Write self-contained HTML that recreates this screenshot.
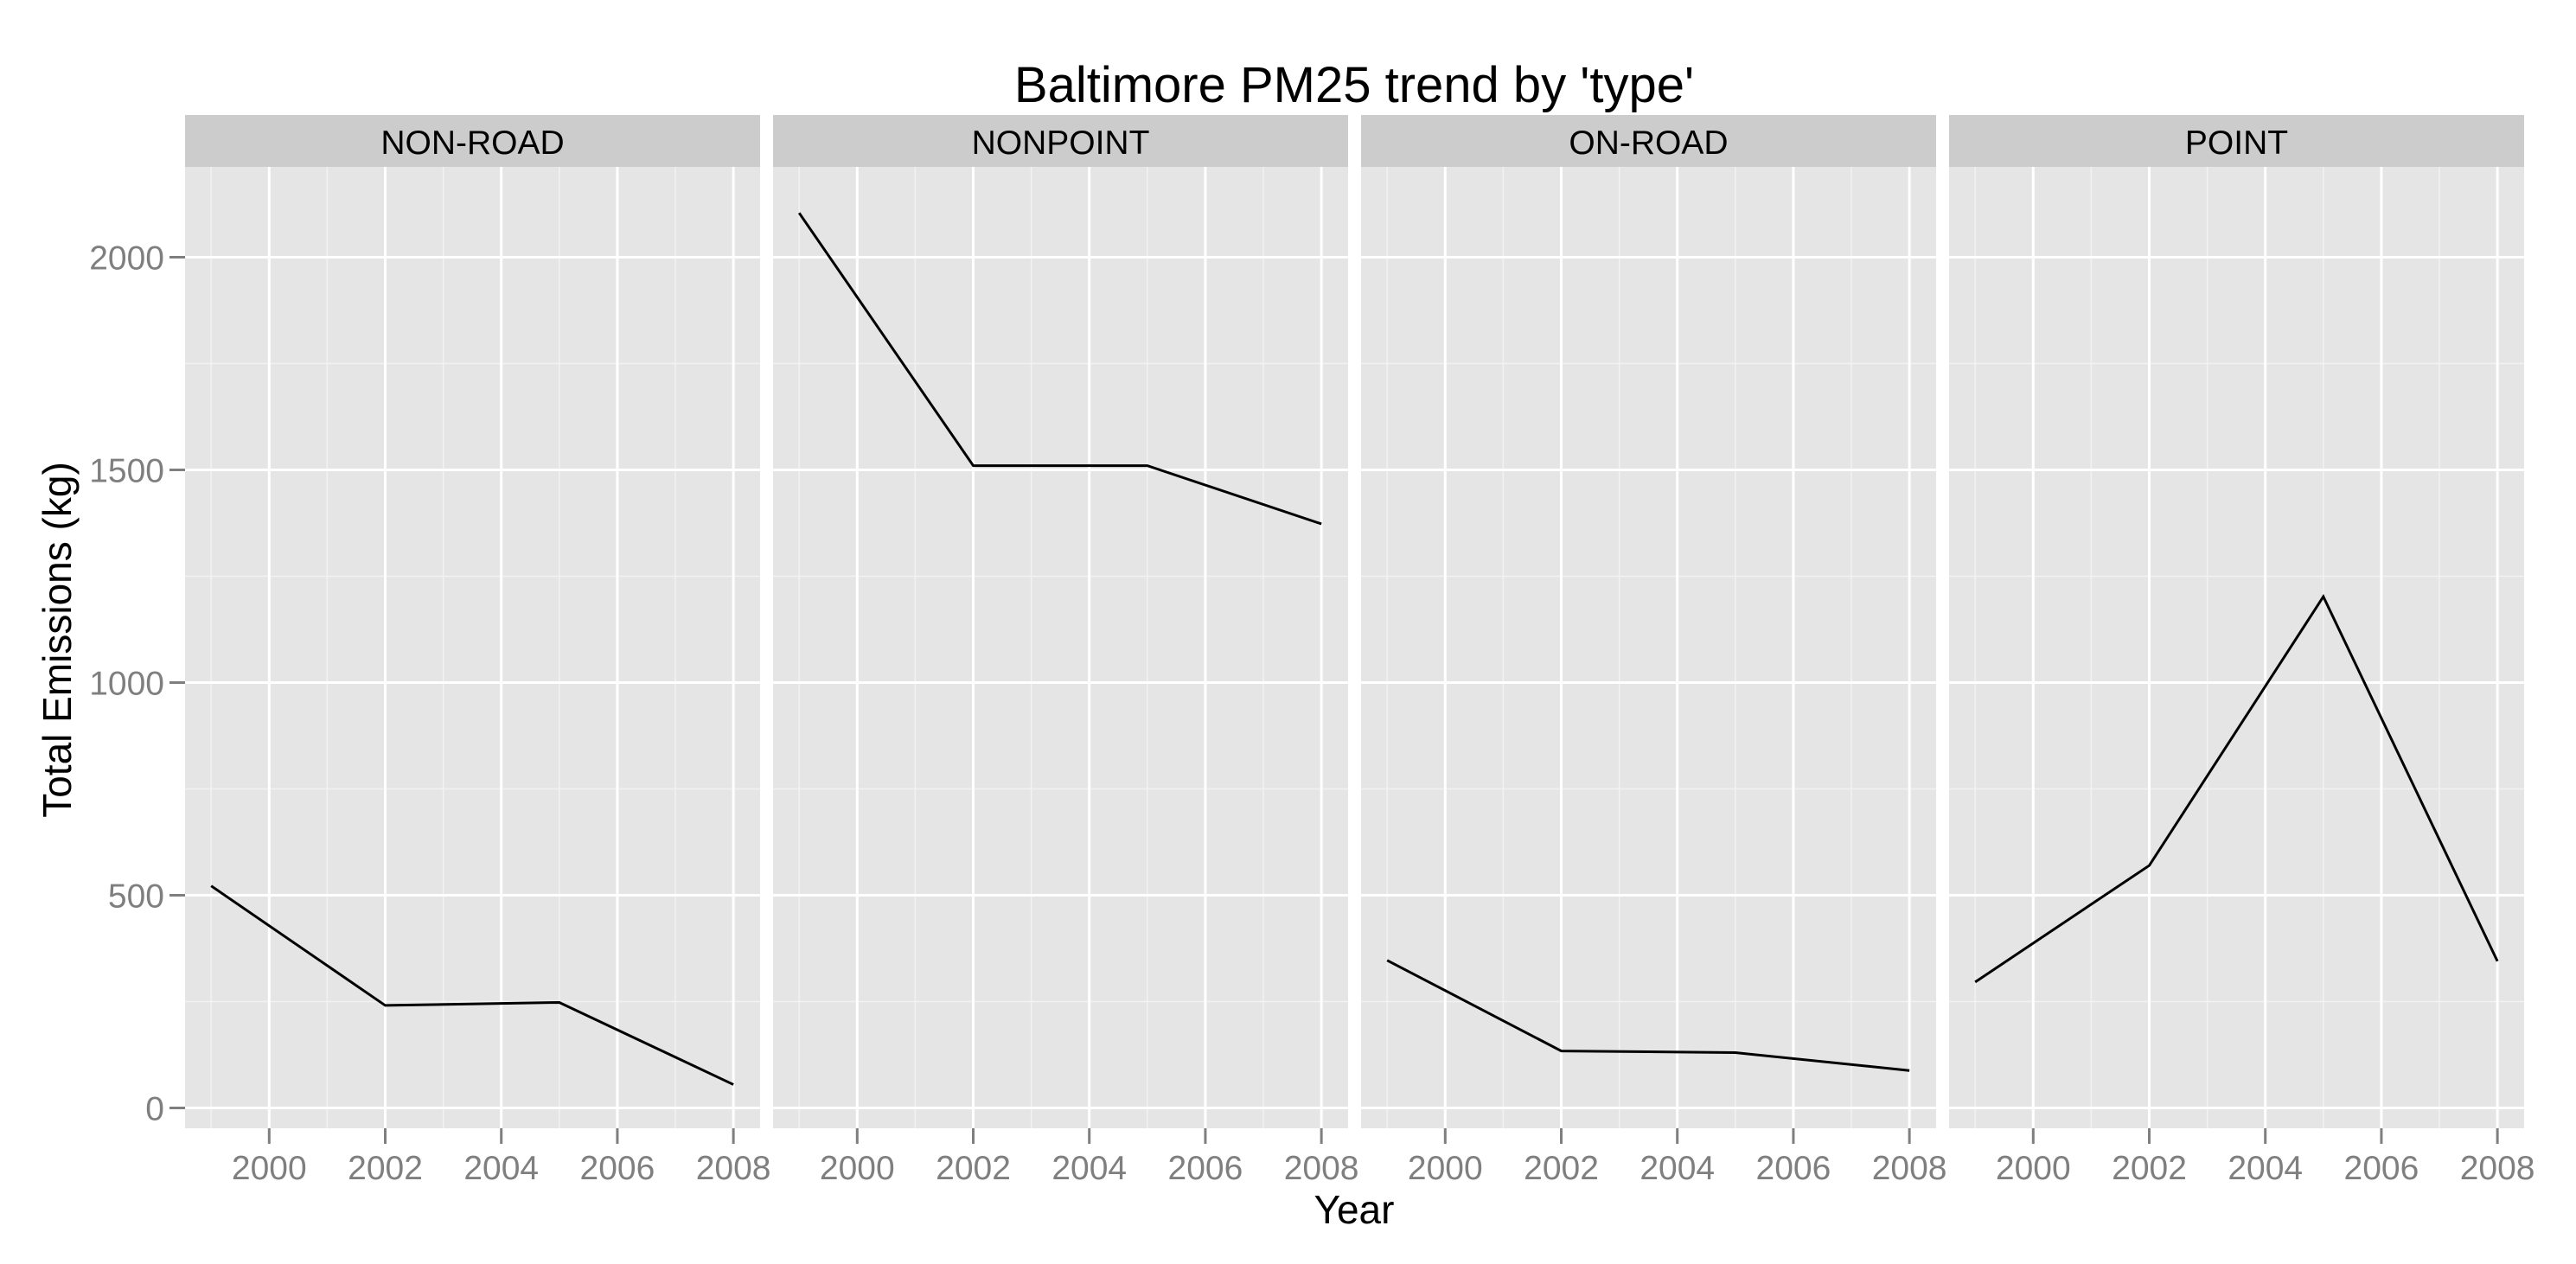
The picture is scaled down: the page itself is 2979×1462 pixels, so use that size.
<!DOCTYPE html>
<html><head><meta charset="utf-8"><style>
html,body{margin:0;padding:0;background:#fff;}
svg{display:block;font-family:"Liberation Sans",Arial,sans-serif;}
</style></head><body>
<svg id="chart" width="2979" height="1462" viewBox="0 0 2979 1462" xmlns="http://www.w3.org/2000/svg">
<text x="1566" y="118" font-size="58" text-anchor="middle" fill="#000">Baltimore PM25 trend by 'type'</text>
<text x="1566" y="1415" font-size="46" text-anchor="middle" fill="#000">Year</text>
<text transform="translate(82,740) rotate(-90)" font-size="46" text-anchor="middle" fill="#000">Total Emissions (kg)</text>
<g id="panels"></g>
</svg>
<script>
const panelNames = ["NON-ROAD","NONPOINT","ON-ROAD","POINT"];
const years = [1999, 2002, 2005, 2008];
const nonRoad = [522, 241, 248, 55];
const nonPoint = [2104, 1510, 1510, 1373];
const onRoad = [347, 134, 130, 88];
const point = [296, 570, 1202, 345];
const yTicks = [0, 500, 1000, 1500, 2000];
const xTicks = [2000, 2002, 2004, 2006, 2008];

const series = [nonRoad, nonPoint, onRoad, point];
const NS = "http://www.w3.org/2000/svg";
const gPanels = document.getElementById("panels");
const pw = 665, gap = 15, left0 = 214, plotTop = 193, plotBottom = 1305;
const xMin = 1998.55, xMax = 2008.46;
const yScale = v => 1281.5 - v * (246 / 500);
function mk(tag, attrs, parent){ const e = document.createElementNS(NS, tag); for (const k in attrs) e.setAttribute(k, attrs[k]); (parent||gPanels).appendChild(e); return e; }

yTicks.forEach(t => {
  const y = yScale(t);
  const lab = mk("text", {x: 190, y: y + 14, "font-size": 39, "text-anchor": "end", fill: "#7f7f7f"});
  lab.textContent = t;
  
  
  const tk = mk("line", {x1: 196, x2: 214, y1: y, y2: y, stroke: "#7f7f7f", "stroke-width": 3});
  
  
});

panelNames.forEach((name, i) => {
  const x0 = left0 + i * (pw + gap);
  const xs = v => x0 + (v - xMin) / (xMax - xMin) * pw;
  const pg = mk("g", {});
  
  
  const strip = mk("rect", {x: x0, y: 133, width: pw, height: 60, fill: "#cccccc"}, pg);
  
  
  const st = mk("text", {x: x0 + pw/2, y: 178, "font-size": 39, "text-anchor": "middle", fill: "#000"}, pg);
  st.textContent = name;
  
  
  const bg = mk("rect", {x: x0, y: plotTop, width: pw, height: plotBottom - plotTop, fill: "#e5e5e5"}, pg);
  
  
  for (let yr = 1999; yr <= 2008; yr += 2) {
    const l = mk("line", {x1: xs(yr), x2: xs(yr), y1: plotTop, y2: plotBottom, stroke: "#f2f2f2", "stroke-width": 1.5}, pg);
    
    
  }
  for (let v = 250; v <= 2250; v += 500) {
    if (yScale(v) < plotTop) continue;
    const l = mk("line", {x1: x0, x2: x0 + pw, y1: yScale(v), y2: yScale(v), stroke: "#f2f2f2", "stroke-width": 1.5}, pg);
    
    
  }
  yTicks.forEach(t => {
    const l = mk("line", {x1: x0, x2: x0 + pw, y1: yScale(t), y2: yScale(t), stroke: "#fff", "stroke-width": 3}, pg);
    
    
  });
  xTicks.forEach(t => {
    const l = mk("line", {x1: xs(t), x2: xs(t), y1: plotTop, y2: plotBottom, stroke: "#fff", "stroke-width": 3}, pg);
    
    
    const tk = mk("line", {x1: xs(t), x2: xs(t), y1: plotBottom, y2: 1323, stroke: "#7f7f7f", "stroke-width": 3}, pg);
    
    
    const lab = mk("text", {x: xs(t), y: 1364, "font-size": 39, "text-anchor": "middle", fill: "#7f7f7f"}, pg);
    lab.textContent = t;
    
    
  });
  const pts = years.map((yr, j) => xs(yr) + "," + yScale(series[i][j])).join(" ");
  const line = mk("polyline", {points: pts, fill: "none", stroke: "#000", "stroke-width": 3}, pg);
  
  
});
</script>
</body></html>
